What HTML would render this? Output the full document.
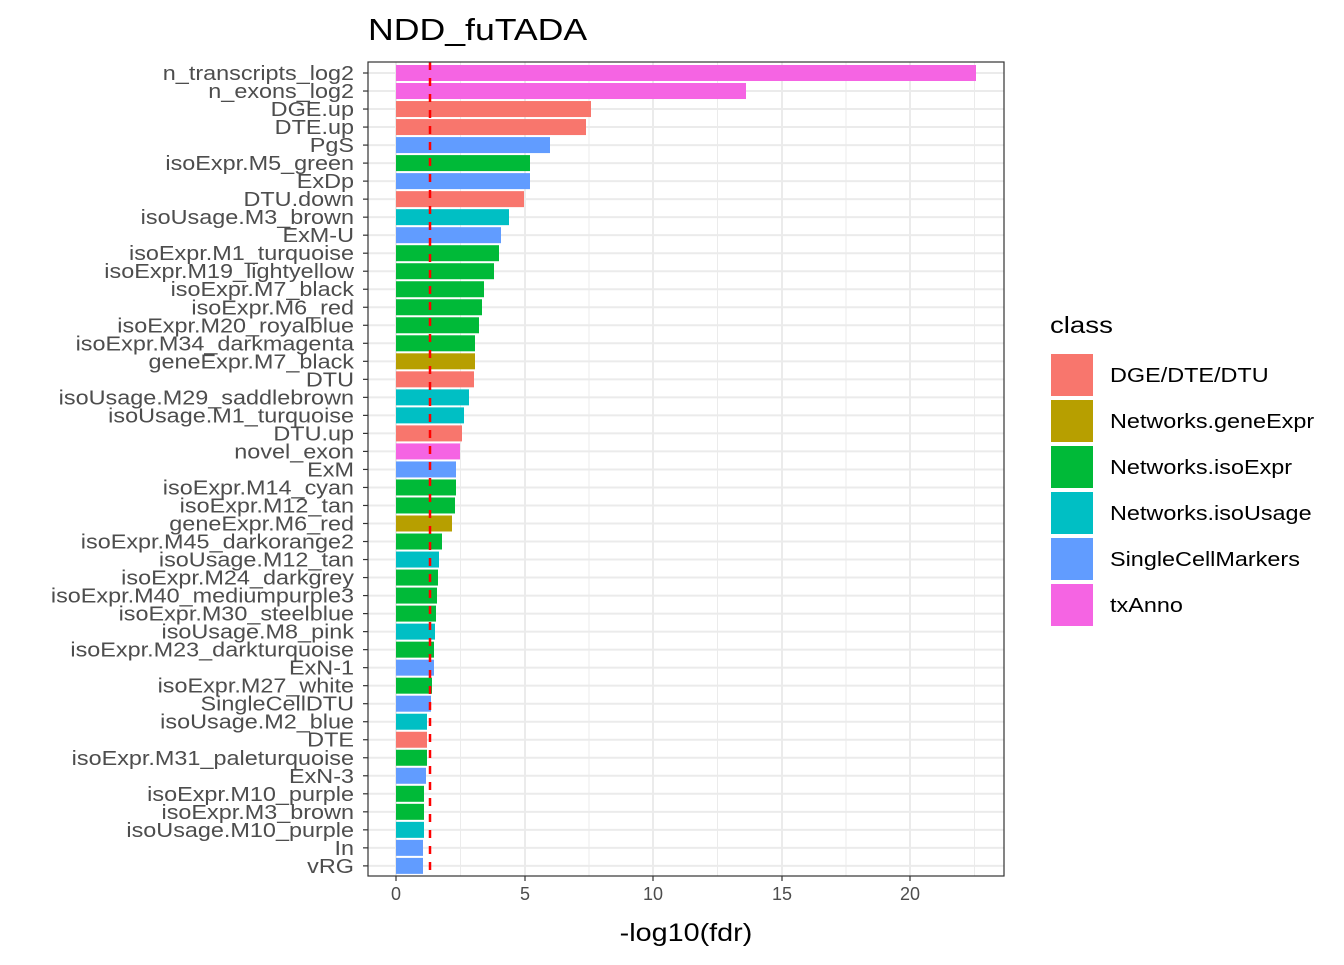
<!DOCTYPE html>
<html><head><style>body{margin:0;background:#fff}svg text{font-family:"Liberation Sans",Arial,sans-serif}</style></head><body>
<svg width="1344" height="960" xmlns="http://www.w3.org/2000/svg">
<rect width="1344" height="960" fill="#fff"/>
<text class="s" data-f="1.15" x="368" y="40" font-size="31" fill="#000">NDD_fuTADA</text>
<g id="grid" stroke="#ebebeb"></g>
<g id="bars"></g>
<line x1="430" y1="62" x2="430" y2="876" stroke="#ff0000" stroke-width="2.5" stroke-dasharray="8,8"/>
<rect x="368" y="62" width="636" height="814" fill="none" stroke="#333" stroke-width="1.2"/>
<g id="labels" font-size="20" fill="#4d4d4d" text-anchor="end"></g>
<g font-size="18" fill="#4d4d4d" text-anchor="middle">
<text x="396" y="900">0</text><text x="525" y="900">5</text><text x="653" y="900">10</text><text x="782" y="900">15</text><text x="910" y="900">20</text>
</g>
<g stroke="#333" stroke-width="1.2"><line x1="396" y1="876" x2="396" y2="881"/><line x1="525" y1="876" x2="525" y2="881"/><line x1="653" y1="876" x2="653" y2="881"/><line x1="782" y1="876" x2="782" y2="881"/><line x1="910" y1="876" x2="910" y2="881"/></g>
<text class="s" data-f="1.15" x="686" y="941" font-size="25" text-anchor="middle" fill="#000">-log10(fdr)</text>
<text class="s" data-f="1.2" x="1050" y="333" font-size="23" fill="#000">class</text>
<g id="legend" font-size="20" fill="#000"></g>
<script>
var C={a:"#F8766D",b:"#B79F00",c:"#00BA38",d:"#00BFC4",e:"#619CFF",f:"#F564E3"};
var D=[["n_transcripts_log2",976,"f"],["n_exons_log2",746,"f"],["DGE.up",591,"a"],["DTE.up",586,"a"],["PgS",550,"e"],["isoExpr.M5_green",530,"c"],["ExDp",530,"e"],["DTU.down",524,"a"],["isoUsage.M3_brown",509,"d"],["ExM-U",501,"e"],["isoExpr.M1_turquoise",499,"c"],["isoExpr.M19_lightyellow",494,"c"],["isoExpr.M7_black",484,"c"],["isoExpr.M6_red",482,"c"],["isoExpr.M20_royalblue",479,"c"],["isoExpr.M34_darkmagenta",475,"c"],["geneExpr.M7_black",475,"b"],["DTU",474,"a"],["isoUsage.M29_saddlebrown",469,"d"],["isoUsage.M1_turquoise",464,"d"],["DTU.up",462,"a"],["novel_exon",460,"f"],["ExM",456,"e"],["isoExpr.M14_cyan",456,"c"],["isoExpr.M12_tan",455,"c"],["geneExpr.M6_red",452,"b"],["isoExpr.M45_darkorange2",442,"c"],["isoUsage.M12_tan",439,"d"],["isoExpr.M24_darkgrey",438,"c"],["isoExpr.M40_mediumpurple3",437,"c"],["isoExpr.M30_steelblue",436,"c"],["isoUsage.M8_pink",435,"d"],["isoExpr.M23_darkturquoise",434,"c"],["ExN-1",434,"e"],["isoExpr.M27_white",432,"c"],["SingleCellDTU",431,"e"],["isoUsage.M2_blue",427,"d"],["DTE",427,"a"],["isoExpr.M31_paleturquoise",427,"c"],["ExN-3",426,"e"],["isoExpr.M10_purple",424,"c"],["isoExpr.M3_brown",424,"c"],["isoUsage.M10_purple",424,"d"],["In",423,"e"],["vRG",423,"e"]];
var ns="http://www.w3.org/2000/svg";function el(t,a,p,tx){var e=document.createElementNS(ns,t);for(var k in a)e.setAttribute(k,a[k]);if(tx)e.textContent=tx;document.getElementById(p).appendChild(e);return e;}
[460.5,589,717.5,846,974.5].forEach(function(x){el("line",{x1:x,x2:x,y1:62,y2:876,"stroke-width":1},"grid")});
[396,525,653,782,910].forEach(function(x){el("line",{x1:x,x2:x,y1:62,y2:876,"stroke-width":2},"grid")});
D.forEach(function(d,i){var y=73+i*18.02;el("line",{x1:368,x2:1004,y1:y,y2:y,"stroke-width":2},"grid");
el("rect",{x:396,y:y-8,width:d[1]-396,height:16,fill:C[d[2]]},"bars");
el("text",{x:354,y:y+7,"class":"s","data-f":"1.17"},"labels",d[0]);el("line",{x1:363,x2:368,y1:y,y2:y,stroke:"#333","stroke-width":1.2},"labels");});
[["DGE/DTE/DTU","a"],["Networks.geneExpr","b"],["Networks.isoExpr","c"],["Networks.isoUsage","d"],["SingleCellMarkers","e"],["txAnno","f"]].forEach(function(l,i){var y=375+i*46;el("rect",{x:1051,y:y-21,width:42,height:42,fill:C[l[1]]},"legend");el("text",{x:1110,y:y+7,"class":"s","data-f":"1.17"},"legend",l[0]);});
document.querySelectorAll("text.s").forEach(function(t){var w=t.getComputedTextLength();t.setAttribute("textLength",(w*parseFloat(t.getAttribute("data-f"))).toFixed(1));t.setAttribute("lengthAdjust","spacingAndGlyphs");});
</script>
</svg>
</body></html>
